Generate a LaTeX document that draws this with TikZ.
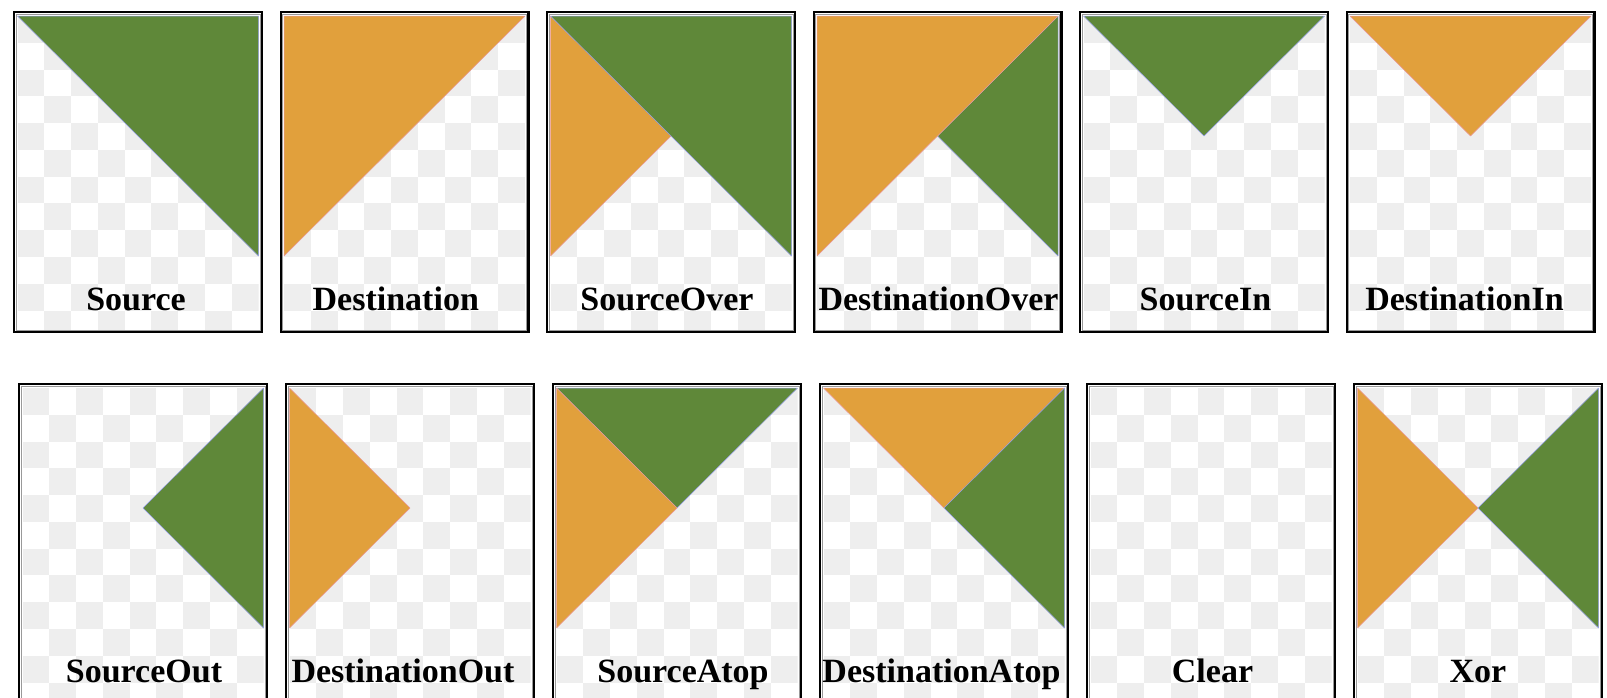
\documentclass[tikz,border=0pt]{standalone}
\usepackage{fontspec}
\setmainfont{Liberation Serif}
\definecolor{grn}{RGB}{95,136,57}
\definecolor{org}{RGB}{225,160,60}
\definecolor{chk}{RGB}{238,238,238}
\definecolor{gedge}{RGB}{150,160,235}
\definecolor{oedge}{RGB}{235,150,150}
\tikzset{
  frameouter/.style={draw=black,line width=2.2pt},
  frameinner/.style={draw=black!40,line width=0.8pt},
  gtri/.style={fill=grn,draw=gedge,line width=0.5pt,line join=bevel},
  otri/.style={fill=org,draw=oedge,line width=0.5pt,line join=bevel},
  chkcell/.style={fill=chk},
  lbl/.style={anchor=base,inner sep=0pt,font=\bfseries\fontsize{34}{38}\selectfont}
}
\newcommand\Gtri[3]{\fill[gtri] (#1) -- (#2) -- (#3) -- cycle;}
\newcommand\Otri[3]{\fill[otri] (#1) -- (#2) -- (#3) -- cycle;}
\newcommand\modesrc{\Gtri{TL}{TR}{BR}}
\newcommand\modedst{\Otri{TL}{TR}{BL}}
\newcommand\modesrcover{\Otri{TL}{C}{BL}\Gtri{TL}{TR}{BR}}
\newcommand\modedstover{\Gtri{TR}{BR}{C}\Otri{TL}{TR}{BL}}
\newcommand\modesrcin{\Gtri{TL}{TR}{C}}
\newcommand\modedstin{\Otri{TL}{TR}{C}}
\newcommand\modesrcout{\Gtri{TR}{BR}{C}}
\newcommand\modedstout{\Otri{TL}{BL}{C}}
\newcommand\modesrcatop{\Gtri{TL}{TR}{C}\Otri{TL}{C}{BL}}
\newcommand\modedstatop{\Otri{TL}{TR}{C}\Gtri{TR}{BR}{C}}
\newcommand\modeclear{}
\newcommand\modexor{\Otri{TL}{C}{BL}\Gtri{TR}{BR}{C}}
\newcommand\drawbox[6]{%
  \begin{scope}[shift={(#1,#2)}]
    \begin{scope}
      \clip (4.5,5) rectangle (245.5,318.5);
      \foreach \i in {0,...,8} {\foreach \j in {0,...,11} {%
        \pgfmathparse{int(mod(\i+\j,2))}%
        \ifnum\pgfmathresult=0
          \fill[chkcell] ({4.5+\i*241/9},{5+\j*241/9}) rectangle +({241/9},{241/9});
        \fi}}
    \end{scope}
    \begin{scope}[shift={(4.5,5)}]
      \coordinate (TL) at (0,0);
      \coordinate (TR) at (241,0);
      \coordinate (BR) at (241,240);
      \coordinate (BL) at (0,240);
      \coordinate (C) at (120.5,120);
      \csname mode#4\endcsname
    \end{scope}
    \draw[frameinner] (3,3) rectangle (247,319);
    \draw[frameouter] (1.1,1.1) rectangle (248.9,320.9);
    \node[lbl] (#5) at ({125+#6},299) {#3};
  \end{scope}}
\begin{document}
\begin{tikzpicture}[x=1pt,y=-1pt]
  \useasboundingbox[fill=white] (0,0) rectangle (1607,697);
  \drawbox{13}{11}{Source}{src}{lsrc}{-2}
  \drawbox{279.5}{11}{Destination}{dst}{ldst}{-8.7}
  \drawbox{546}{11}{SourceOver}{srcover}{lsrcover}{-4}
  \drawbox{812.5}{11}{DestinationOver}{dstover}{ldstover}{1}
  \drawbox{1079}{11}{SourceIn}{srcin}{lsrcin}{1.5}
  \drawbox{1345.5}{11}{DestinationIn}{dstin}{ldstin}{-6}
  \drawbox{18}{383}{SourceOut}{srcout}{lsrcout}{1}
  \drawbox{285}{383}{DestinationOut}{dstout}{ldstout}{-7}
  \drawbox{552}{383}{SourceAtop}{srcatop}{lsrcatop}{6}
  \drawbox{819}{383}{DestinationAtop}{dstatop}{ldstatop}{-2.5}
  \drawbox{1086}{383}{Clear}{clear}{lclear}{1.5}
  \drawbox{1353}{383}{Xor}{xor}{lxor}{0}
\end{tikzpicture}
\end{document}
